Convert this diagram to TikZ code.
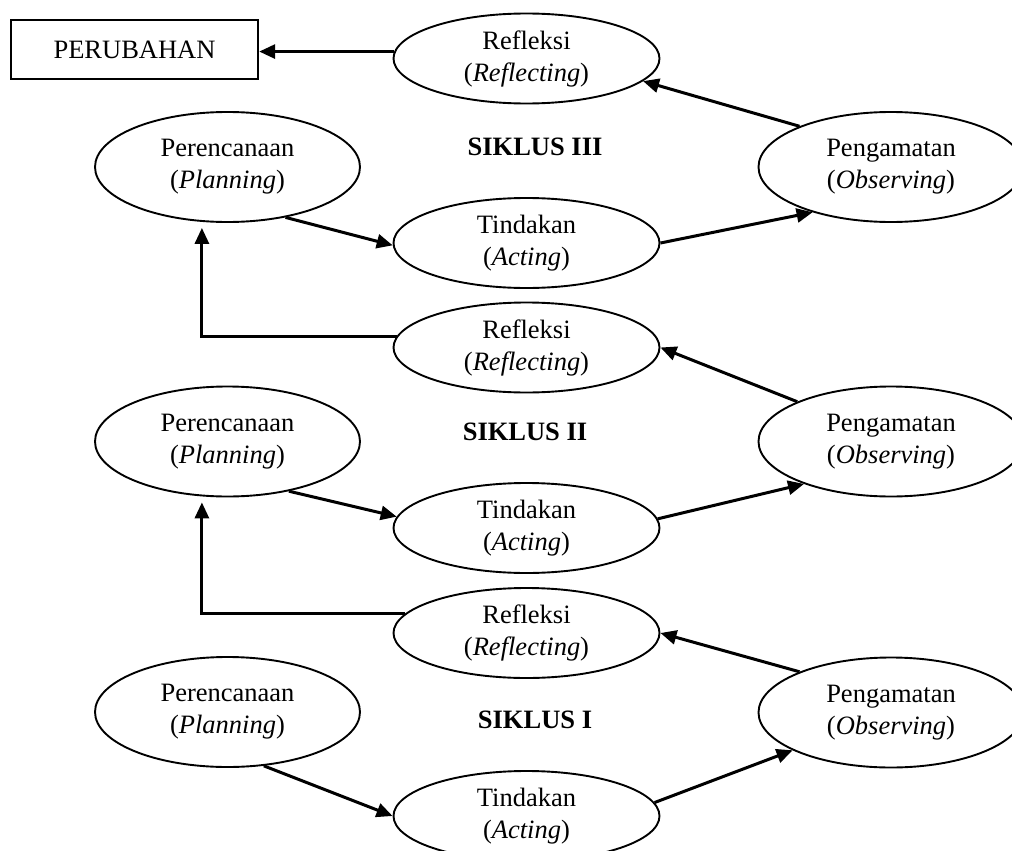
\documentclass[tikz,border=0pt]{standalone}
\usepackage{fontspec}
\setmainfont{Liberation Serif}
\usetikzlibrary{shapes.geometric,arrows.meta}
\begin{document}
\begin{tikzpicture}[x=1pt,y=-1pt,
  txt/.style={font=\fontsize{26.5}{32}\selectfont},
  ell/.style={ellipse,draw,line width=1.9pt,inner sep=0pt,align=center,txt},
  big/.style={ell,minimum width=265pt,minimum height=110pt},
  small/.style={ell,minimum width=266pt,minimum height=90pt},
  arr/.style={line width=3pt,-{Triangle[length=16pt,width=14pt]}},
  lbl/.style={txt,font=\fontsize{26.5}{32}\selectfont\bfseries}]
\useasboundingbox (0,0) rectangle (1012,851);

% top
\node[draw,line width=2.4pt,minimum width=247pt,minimum height=59pt,inner sep=0pt,txt] (box) at (134.5,49.5) {PERUBAHAN};

% Siklus III
\node[small] (r3) at (526.5,58.5) {Refleksi\\(\textit{Reflecting})};
\node[big] (pl3) at (227.5,167) {Perencanaan\\(\textit{Planning})};
\node[big] (pe3) at (891,167) {Pengamatan\\(\textit{Observing})};
\node[small] (t3) at (526.5,243) {Tindakan\\(\textit{Acting})};
\node[lbl] (s3) at (535,147) {SIKLUS III};

% Siklus II
\node[small] (r2) at (526.5,347.5) {Refleksi\\(\textit{Reflecting})};
\node[big] (pl2) at (227.5,441.5) {Perencanaan\\(\textit{Planning})};
\node[big] (pe2) at (891,441.5) {Pengamatan\\(\textit{Observing})};
\node[small] (t2) at (526.5,528) {Tindakan\\(\textit{Acting})};
\node[lbl] (s2) at (525,432) {SIKLUS II};

% Siklus I
\node[small] (r1) at (526.5,633) {Refleksi\\(\textit{Reflecting})};
\node[big] (pl1) at (227.5,712) {Perencanaan\\(\textit{Planning})};
\node[big] (pe1) at (891,712.5) {Pengamatan\\(\textit{Observing})};
\node[small] (t1) at (526.5,816) {Tindakan\\(\textit{Acting})};
\node[lbl] (s1) at (535,720) {SIKLUS I};

% connectors
\draw[arr] (r3.177) -- (r3.177 -| box.east);
\draw[arr] (pe3.156.5) -- (r3.-11);
\draw[arr] (pl3.-41.6) -- (t3.181);
\draw[arr] (t3.east) -- (pe3.210.3);

\draw[arr,line join=miter,shorten >=6pt] (r2.175) -| (pl3.245);
\draw[arr] (pe2.157.9) -- (r2.east);
\draw[arr] (pl2.-39.8) -- (t2.175.3);
\draw[arr] (t2.4.8) -- (pe2.206.6);

\draw[arr,line join=miter,shorten >=6pt] (r1.171) -| (pl2.245);
\draw[arr] (pe1.156.8) -- (r1.east);
\draw[arr] (pl1.-56.2) -- (t1.west);
\draw[arr] (t1.6.1) -- (pe1.201.2);
\end{tikzpicture}
\end{document}
